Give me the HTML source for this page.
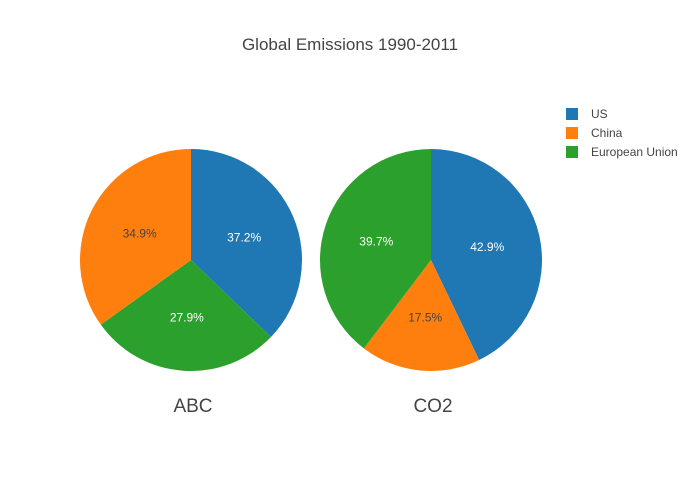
<!DOCTYPE html>
<html><head><meta charset="utf-8"><style>
body{margin:0;background:#fff;font-family:"Liberation Sans",sans-serif;}
</style></head><body>
<svg id="c" width="700" height="500" style="display:block">
<rect width="700" height="500" fill="#fff"/>
<text x="350" y="50" text-anchor="middle" font-size="17" fill="#444">Global Emissions 1990-2011</text>
<g id="legend"></g>
</svg>
<script>
const abcCategories = ["US", "European Union", "China"];
const co2Categories = ["US", "China", "European Union"];
const legendOrder = ["US", "China", "European Union"];
const colors = {"US":"#1f77b4","China":"#ff7f0e","European Union":"#2ca02c"};
const pieNames = ["ABC", "CO2"];
const abcValues = [37.2, 27.9, 34.9];
const co2Values = [42.9, 17.5, 39.7];
const allValues = [abcValues, co2Values];
const allCategories = [abcCategories, co2Categories];
const svg = document.getElementById('c');
const NS = 'http://www.w3.org/2000/svg';
const centers = [191, 431], cy = 260, R = 111;
function pt(cx, a, r){ return [cx + r*Math.sin(a), cy - r*Math.cos(a)]; }
allValues.forEach((vals, p) => {
  const cx = centers[p];
  const cats = allCategories[p];
  const tot = vals.reduce((a,b)=>a+b,0);
  let a0 = 0;
  vals.forEach((v, i) => {
    const a1 = a0 + v/tot*2*Math.PI;
    const [x0,y0] = pt(cx,a0,R), [x1,y1] = pt(cx,a1,R);
    const path = document.createElementNS(NS,'path');
    path.setAttribute('d', `M${cx},${cy}L${x0},${y0}A${R},${R} 0 ${a1-a0>Math.PI?1:0} 1 ${x1},${y1}Z`);
    path.setAttribute('fill', colors[cats[i]]);
    
    
    svg.appendChild(path);
    const am = (a0+a1)/2;
    const [tx,ty] = pt(cx, am, R*0.52);
    const t = document.createElementNS(NS,'text');
    t.setAttribute('x', tx); t.setAttribute('y', ty+4);
    t.setAttribute('text-anchor','middle'); t.setAttribute('font-size','12');
    t.setAttribute('fill', cats[i]==='China' ? '#444' : '#fff');
    t.textContent = (v/tot*100).toFixed(1) + '%';
    
    
    svg.appendChild(t);
    a0 = a1;
  });
  const tt = document.createElementNS(NS,'text');
  tt.setAttribute('x', cx+2); tt.setAttribute('y', 412);
  tt.setAttribute('text-anchor','middle'); tt.setAttribute('font-size','19'); tt.setAttribute('fill','#444');
  tt.textContent = pieNames[p];
  
  
  svg.appendChild(tt);
});
const lg = document.getElementById('legend');
legendOrder.forEach((n, i) => {
  const y = 114 + i*19;
  const r = document.createElementNS(NS,'rect');
  r.setAttribute('x', 566); r.setAttribute('y', y-6); r.setAttribute('width', 12); r.setAttribute('height', 12);
  r.setAttribute('fill', colors[n]);
  
  
  lg.appendChild(r);
  const t = document.createElementNS(NS,'text');
  t.setAttribute('x', 591); t.setAttribute('y', y+4); t.setAttribute('font-size','12'); t.setAttribute('fill','#444');
  t.textContent = n;
  
  
  lg.appendChild(t);
});
</script>
</body></html>
